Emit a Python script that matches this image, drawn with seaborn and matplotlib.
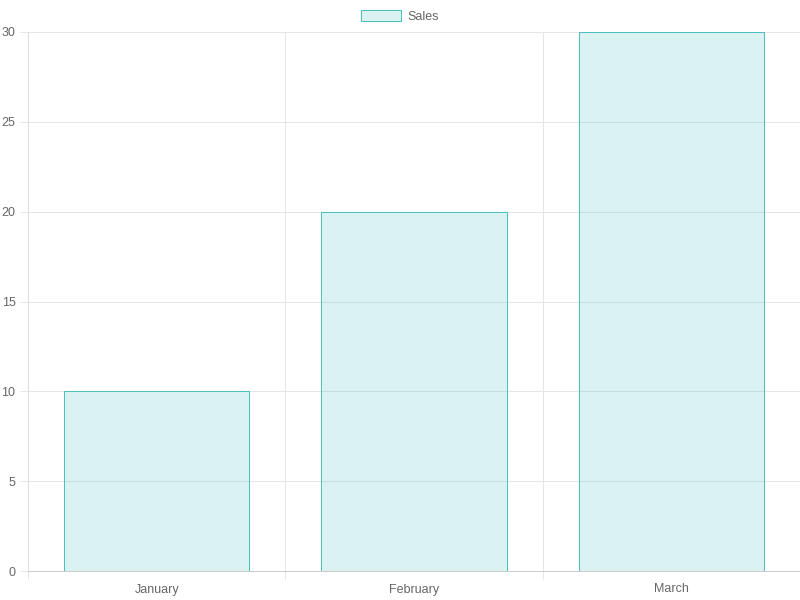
import matplotlib
matplotlib.use("Agg")
import matplotlib.pyplot as plt
from matplotlib.patches import Patch
import seaborn as sns
import pandas as pd

# chart data
months = ["January", "February", "March"]
sales = [10, 20, 30]
y_ticks = [0, 5, 10, 15, 20, 25, 30]

df = pd.DataFrame({"month": months, "sales": sales})

sns.set_theme(style="white")
plt.rcParams["font.family"] = ["Liberation Sans", "DejaVu Sans"]

fill = (75 / 255, 192 / 255, 192 / 255, 0.2)
edge = (75 / 255, 192 / 255, 192 / 255, 1.0)
grid_c = "#e5e5e5"
text_c = "#666666"
px = 0.72  # one pixel in points at dpi 100

fig = plt.figure(figsize=(8, 6), dpi=100)
ax = fig.add_axes([28 / 800, 29 / 600, 772 / 800, 539 / 600])

sns.barplot(data=df, x="month", y="sales", width=0.72, ax=ax,
            color=edge[:3], linewidth=px, edgecolor=edge)
for p in ax.patches:
    p.set_facecolor(fill)
    p.set_edgecolor(edge)
    p.set_zorder(3)

ax.set_xlim(-0.5, 2.5)
ax.set_ylim(0, 30)
ax.set_yticks(y_ticks)
ax.set_xlabel("")
ax.set_ylabel("")

# gridlines at category boundaries
ax.set_xticks([-0.5, 0.5, 1.5, 2.5], minor=True)
ax.grid(True, which="minor", axis="x", color=grid_c, linewidth=px, zorder=0)
ax.grid(True, which="major", axis="y", color=grid_c, linewidth=px, zorder=0)
ax.grid(False, which="major", axis="x")

ax.tick_params(axis="x", which="major", length=0, pad=9, labelsize=9,
               labelcolor=text_c)
ax.tick_params(axis="x", which="minor", length=6, color=grid_c, width=px,
               bottom=True)
ax.tick_params(axis="y", which="major", length=6, color=grid_c, width=px,
               pad=3, labelsize=9, labelcolor=text_c, left=True)

for s in ["top", "right"]:
    ax.spines[s].set_visible(False)
ax.spines["left"].set_color("#dddddd")
ax.spines["bottom"].set_color("#cccccc")
for s in ["left", "bottom"]:
    ax.spines[s].set_linewidth(px)

handle = Patch(facecolor=fill, edgecolor=edge, linewidth=px)
fig.legend([handle], ["Sales"], loc="center", bbox_to_anchor=(0.5, 1 - 16.5 / 600),
           frameon=False, fontsize=9, labelcolor=text_c, handlelength=3.2,
           handleheight=1.0, handletextpad=0.5)

fig.savefig("out.png", dpi=100)
